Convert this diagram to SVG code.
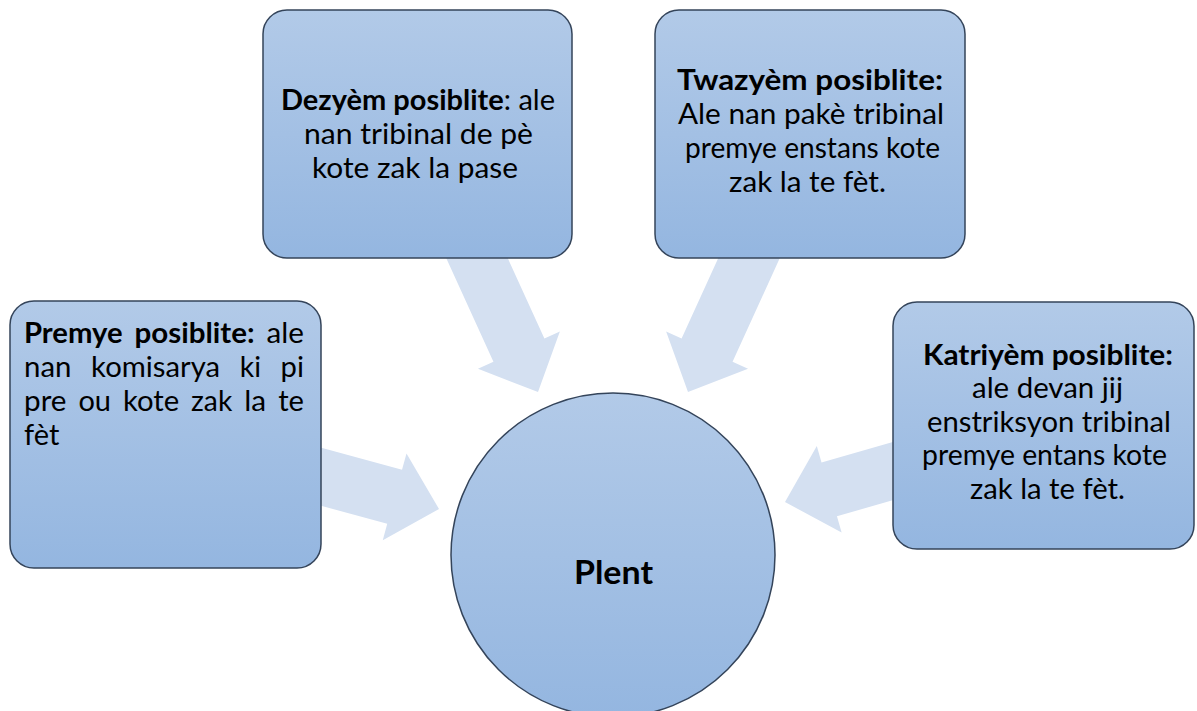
<svg xmlns="http://www.w3.org/2000/svg" width="1197" height="711" viewBox="0 0 1197 711">
<defs>
<linearGradient id="nodeGrad" x1="0" y1="0" x2="0" y2="1">
<stop offset="0" stop-color="#b2cae8"/>
<stop offset="1" stop-color="#94b6e0"/>
</linearGradient>
<polygon id="arrowShape" points="0,0 -46,-45 -46,-28 -160,-28 -160,28 -46,28 -46,45"/>
</defs>
<style>
.node { fill: url(#nodeGrad); stroke: #34445a; stroke-width: 1.5; }
.arrow { fill: #d4e0f1; stroke: none; }
.t { font-family: Lato, "Liberation Sans", sans-serif; font-size: 28px; fill: #000; }
.b { font-weight: bold; }
.c { font-family: Lato, "Liberation Sans", sans-serif; font-size: 33px; font-weight: bold; fill: #000; }
</style>
<rect width="1197" height="711" fill="#ffffff"/>
<g id="connectors">
<use href="#arrowShape" class="arrow" transform="translate(439,509) rotate(15.3)"/>
<use href="#arrowShape" class="arrow" transform="translate(538,392) rotate(65.5)"/>
<use href="#arrowShape" class="arrow" transform="translate(688,392) rotate(114.5)"/>
<use href="#arrowShape" class="arrow" transform="translate(785,502) rotate(164)"/>
</g>
<g id="node-premye">
<rect class="node" x="10" y="301" width="311" height="267" rx="24"/>
<text class="t" y="343"><tspan class="b" x="24" textLength="98.6" lengthAdjust="spacingAndGlyphs">Premye</tspan><tspan class="b" x="134.5" textLength="120.1" lengthAdjust="spacingAndGlyphs">posiblite:</tspan><tspan x="266.6" textLength="37.4" lengthAdjust="spacingAndGlyphs">ale</tspan></text>
<text class="t" y="377"><tspan x="24" textLength="47.4" lengthAdjust="spacingAndGlyphs">nan</tspan><tspan x="91.1" textLength="129" lengthAdjust="spacingAndGlyphs">komisarya</tspan><tspan x="239.8" textLength="21.2" lengthAdjust="spacingAndGlyphs">ki</tspan><tspan x="280.6" textLength="23.4" lengthAdjust="spacingAndGlyphs">pi</tspan></text>
<text class="t" y="411"><tspan x="24" textLength="42.5" lengthAdjust="spacingAndGlyphs">pre</tspan><tspan x="78.4" textLength="32.6" lengthAdjust="spacingAndGlyphs">ou</tspan><tspan x="122.9" textLength="56.3" lengthAdjust="spacingAndGlyphs">kote</tspan><tspan x="191.1" textLength="41.2" lengthAdjust="spacingAndGlyphs">zak</tspan><tspan x="244.3" textLength="21.9" lengthAdjust="spacingAndGlyphs">la</tspan><tspan x="278.2" textLength="25.8" lengthAdjust="spacingAndGlyphs">te</tspan></text>
<text class="t" x="24" y="445" textLength="35.3" lengthAdjust="spacingAndGlyphs">fèt</text>
</g>
<g id="node-dezyem">
<rect class="node" x="263" y="10" width="309" height="248" rx="24"/>
<text class="t" x="281" y="110" textLength="274" lengthAdjust="spacingAndGlyphs"><tspan class="b">Dezyèm posiblite</tspan>: ale</text>
<text class="t" x="304" y="144" textLength="229" lengthAdjust="spacingAndGlyphs">nan tribinal de pè</text>
<text class="t" x="312" y="178" textLength="206" lengthAdjust="spacingAndGlyphs">kote zak la pase</text>
</g>
<g id="node-twazyem">
<rect class="node" x="655" y="10" width="310" height="248" rx="24"/>
<text class="t b" x="677" y="90" textLength="266" lengthAdjust="spacingAndGlyphs">Twazyèm posiblite:</text>
<text class="t" x="678" y="124" textLength="266" lengthAdjust="spacingAndGlyphs">Ale nan pakè tribinal</text>
<text class="t" x="685" y="158" textLength="255" lengthAdjust="spacingAndGlyphs">premye enstans kote</text>
<text class="t" x="729" y="192" textLength="157" lengthAdjust="spacingAndGlyphs">zak la te fèt.</text>
</g>
<g id="node-katriyem">
<rect class="node" x="893" y="302" width="301" height="247" rx="24"/>
<text class="t b" x="923" y="365" textLength="250" lengthAdjust="spacingAndGlyphs">Katriyèm posiblite:</text>
<text class="t" x="972" y="398" textLength="151" lengthAdjust="spacingAndGlyphs">ale devan jij</text>
<text class="t" x="927" y="432" textLength="244" lengthAdjust="spacingAndGlyphs">enstriksyon tribinal</text>
<text class="t" x="922" y="465" textLength="245" lengthAdjust="spacingAndGlyphs">premye entans kote</text>
<text class="t" x="970" y="499" textLength="155" lengthAdjust="spacingAndGlyphs">zak la te fèt.</text>
</g>
<g id="node-plent">
<circle class="node" cx="613" cy="555" r="162"/>
<text class="c" x="574" y="584" textLength="79" lengthAdjust="spacingAndGlyphs">Plent</text>
</g>
</svg>
